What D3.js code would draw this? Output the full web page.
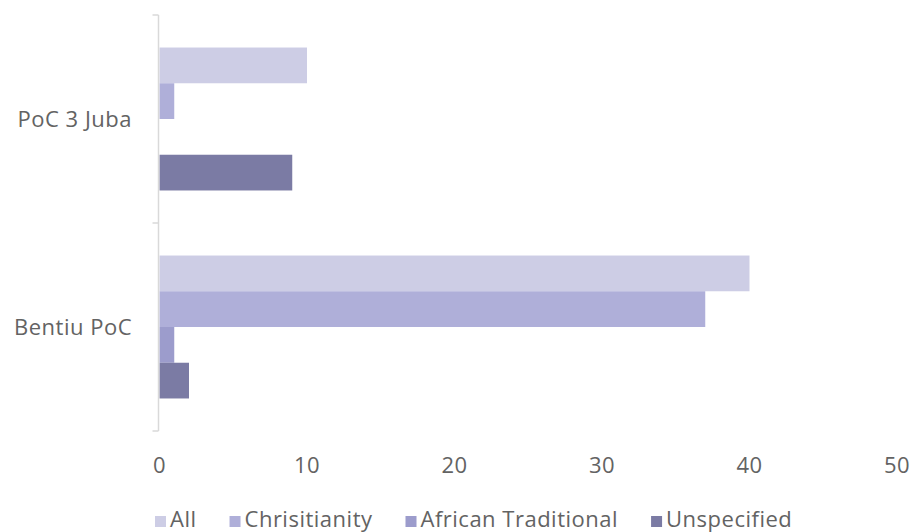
<!DOCTYPE html>
<html>
<head>
<meta charset="utf-8">
<script src="https://cdn.jsdelivr.net/npm/d3@7"></script>
<style>
  html, body { margin: 0; padding: 0; background: #ffffff; }
  svg { display: block; }
  text { font-family: "Open Sans", Lato, sans-serif; fill: #636363; letter-spacing: 0.5px; }
</style>
</head>
<body>
<svg id="chart" width="910" height="532"></svg>
<script>
// Sites (top to bottom) and religious affiliation series
const categories = ["PoC 3 Juba", "Bentiu PoC"];
const seriesNames = ["All", "Chrisitianity", "African Traditional", "Unspecified"];
const valuesAll = [10, 40];
const valuesChristianity = [1, 37];
const valuesAfricanTraditional = [0, 1];
const valuesUnspecified = [9, 2];
const xTicks = [0, 10, 20, 30, 40, 50];

const seriesValues = [valuesAll, valuesChristianity, valuesAfricanTraditional, valuesUnspecified];
const colors = ["#cdcde5", "#afafd9", "#9c9ccc", "#7b7ba4"];
const fontSize = "22px";

const svg = d3.select("#chart");
const plotLeft = 159, plotRight = 896.5, plotTop = 15, plotBottom = 431;

const x = d3.scaleLinear().domain([0, 50]).range([plotLeft, plotRight]);
const y0 = d3.scaleBand().domain(categories).range([plotTop, plotBottom]).padding(0);
const y1 = d3.scaleBand().domain(seriesNames)
  .range([0, y0.bandwidth()]).paddingInner(0).paddingOuter(0.91);

// Bars
const groups = svg.append("g").selectAll("g")
  .data(categories).join("g")
  .attr("transform", d => `translate(0,${y0(d)})`);

groups.selectAll("rect")
  .data((c, ci) => seriesNames.map((s, si) => ({ s, si, v: seriesValues[si][ci] })))
  .join("rect")
  .attr("x", x(0) + 0.5)
  .attr("y", d => y1(d.s))
  .attr("width", d => Math.max(0, x(d.v) - x(0)))
  .attr("height", y1.bandwidth())
  .attr("fill", d => colors[d.si]);

// Vertical category axis with boundary ticks
const yAxisG = svg.append("g").attr("transform", `translate(${plotLeft - 0.5},0)`);
yAxisG.append("line")
  .attr("x1", 0).attr("x2", 0).attr("y1", plotTop).attr("y2", plotBottom)
  .attr("stroke", "#d9d9d9").attr("stroke-width", 1.5);
const boundaries = [plotTop].concat(categories.map(c => y0(c) + y0.bandwidth()));
yAxisG.selectAll("line.tick").data(boundaries).join("line")
  .attr("class", "tick")
  .attr("x1", -6).attr("x2", 0)
  .attr("y1", d => d).attr("y2", d => d)
  .attr("stroke", "#d9d9d9").attr("stroke-width", 1.5);

// Category labels
svg.append("g").selectAll("text").data(categories).join("text")
  .attr("x", 132)
  .attr("y", d => y0(d) + y0.bandwidth() / 2)
  .attr("dy", "0.35em")
  .attr("text-anchor", "end")
  .style("font-size", fontSize)
  .text(d => d);

// Value axis labels (no line)
const xAxis = d3.axisBottom(x).tickValues(xTicks).tickSize(0).tickPadding(0).tickFormat(d3.format("d"));
const xAxisG = svg.append("g").attr("transform", "translate(0,457)").call(xAxis);
xAxisG.select(".domain").remove();
xAxisG.selectAll("text")
  .attr("dy", "0.72em")
  .style("font-family", "'Open Sans', Lato, sans-serif")
  .style("font-size", fontSize)
  .style("fill", "#636363");

// Legend
const legend = svg.append("g").attr("transform", "translate(155,0)");
let cx = 0;
seriesNames.forEach((name, i) => {
  const g = legend.append("g").attr("transform", `translate(${cx},0)`);
  g.append("rect").attr("x", 0).attr("y", 516).attr("width", 11).attr("height", 11)
    .attr("fill", colors[i]);
  const t = g.append("text").attr("x", 15).attr("y", 527)
    .style("font-size", fontSize).text(name);
  cx += 15 + t.node().getComputedTextLength() + 33;
});
</script>
</body>
</html>
